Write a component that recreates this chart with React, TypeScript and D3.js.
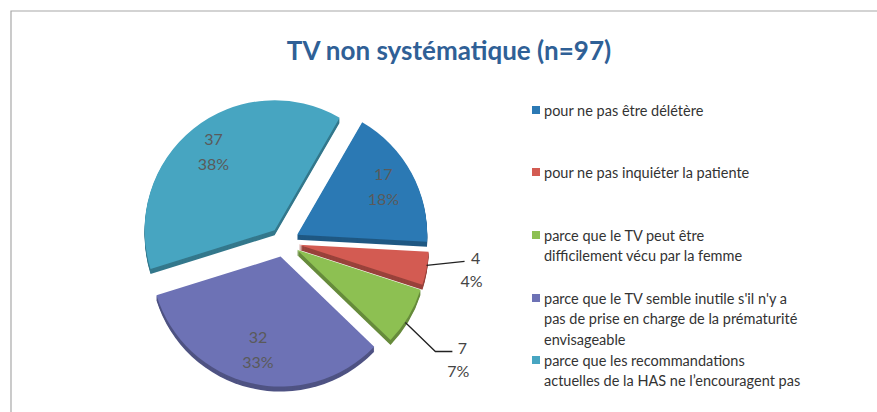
import React from "react";
import * as d3 from "d3";

const title = "TV non systématique (n=97)";
const categories = [
  "pour ne pas être délétère",
  "pour ne pas inquiéter la patiente",
  "parce que le TV peut être difficilement vécu par la femme",
  "parce que le TV semble inutile s'il n'y a pas de prise en charge de la prématurité envisageable",
  "parce que les recommandations actuelles de la HAS ne l’encouragent pas",
];
const legendLines = [
  ["pour ne pas être délétère"],
  ["pour ne pas inquiéter la patiente"],
  ["parce que le TV peut être", "difficilement vécu par la femme"],
  ["parce que le TV semble inutile s'il n'y a", "pas de prise en charge de la prématurité", "envisageable"],
  ["parce que les recommandations", "actuelles de la HAS ne l’encouragent pas"],
];
const values = [17, 4, 7, 32, 37];
const colors = ["#2b79b4", "#d35b52", "#8dc052", "#6d72b5", "#47a5c1"];
const outsideLabel = [false, true, true, false, false];

const W = 877;
const H = 412;
const cx = 284;
const cy = 242;
const R = 130;
const explode = 15;
const depth = 5;
const labelR = 98;
const startDeg = 30;

export default function App() {
  const total = d3.sum(values);
  const pie = d3
    .pie<number>()
    .sort(null)
    .value((d) => d)
    .startAngle((startDeg * Math.PI) / 180)
    .endAngle((startDeg * Math.PI) / 180 + 2 * Math.PI);
  const arcs = pie(values);
  const arc = d3.arc<d3.PieArcDatum<number>>().innerRadius(0).outerRadius(R);
  const labelArc = d3.arc<d3.PieArcDatum<number>>().innerRadius(labelR).outerRadius(labelR);
  const pct = (v: number) => `${Math.round((v / total) * 100)}%`;

  const legendY = [110, 172, 235, 298, 360];
  const lineH = 20.5;

  return (
    <svg
      width={W}
      height={H}
      style={{ position: "absolute", left: 0, top: 0, background: "#fff" }}
      fontFamily="Lato, 'Open Sans', sans-serif"
    >
      <path d={`M11,${H} V11 H${W}`} fill="none" stroke="#a8a8a8" strokeWidth={1.2} />
      <text
        x={449}
        y={50}
        textAnchor="middle"
        dominantBaseline="central"
        fontSize={26}
        fontWeight="bold"
        fill="#2f6096"
      >
        {title}
      </text>

      {arcs.map((a, i) => {
        const mid = (a.startAngle + a.endAngle) / 2;
        const dx = Math.sin(mid) * explode;
        const dy = -Math.cos(mid) * explode;
        const dark = d3.color(colors[i])!.darker(0.9).toString();
        const layers = d3.range(depth, 0, -1);
        return (
          <g key={i} transform={`translate(${cx + dx},${cy + dy})`}>
            {layers.map((k) => (
              <path key={k} d={arc(a)!} transform={`translate(0,${k})`} fill={dark} />
            ))}
            <path d={arc(a)!} fill={colors[i]} />
          </g>
        );
      })}

      {arcs.map((a, i) => {
        const mid = (a.startAngle + a.endAngle) / 2;
        const ux = Math.sin(mid);
        const uy = -Math.cos(mid);
        if (!outsideLabel[i]) {
          const [lx, ly] = labelArc.centroid(a);
          const x = cx + ux * explode + lx;
          const y = cy + uy * explode + ly - 3;
          return (
            <g key={i} fill="#5a5a5a" fontSize={16} textAnchor="middle">
              <text x={x} y={y - 12} dominantBaseline="central">{values[i]}</text>
              <text x={x} y={y + 13} dominantBaseline="central">{pct(values[i])}</text>
            </g>
          );
        }
        const px = cx + ux * (R + explode);
        const py = cy + uy * (R + explode);
        let pts: [number, number][];
        let tx: number;
        let ty: number;
        if (i === 1) {
          pts = [
            [px, py - 3],
            [px + 38, py - 7],
          ];
          tx = px + 49;
          ty = py - 11;
        } else {
          pts = [
            [px - 3, py + 6],
            [px + 27, py + 35],
            [px + 44, py + 35],
          ];
          tx = px + 54;
          ty = py + 31;
        }
        return (
          <g key={i}>
            <path d={d3.line()(pts)!} fill="none" stroke="#222" strokeWidth={1.3} />
            <g fill="#444" fontSize={16} textAnchor="middle">
              <text x={tx} y={ty} dominantBaseline="central">{values[i]}</text>
              <text x={tx - 4} y={ty + 23} dominantBaseline="central">{pct(values[i])}</text>
            </g>
          </g>
        );
      })}

      {legendLines.map((lines, i) => (
        <g key={i}>
          <rect x={532} y={legendY[i] - 4} width={8} height={8} fill={colors[i]} />
          {lines.map((t, j) => (
            <text
              key={j}
              x={544}
              y={legendY[i] + j * lineH}
              dominantBaseline="central"
              fontSize={14.5}
              fill="#333"
            >
              {t}
            </text>
          ))}
        </g>
      ))}
    </svg>
  );
}
